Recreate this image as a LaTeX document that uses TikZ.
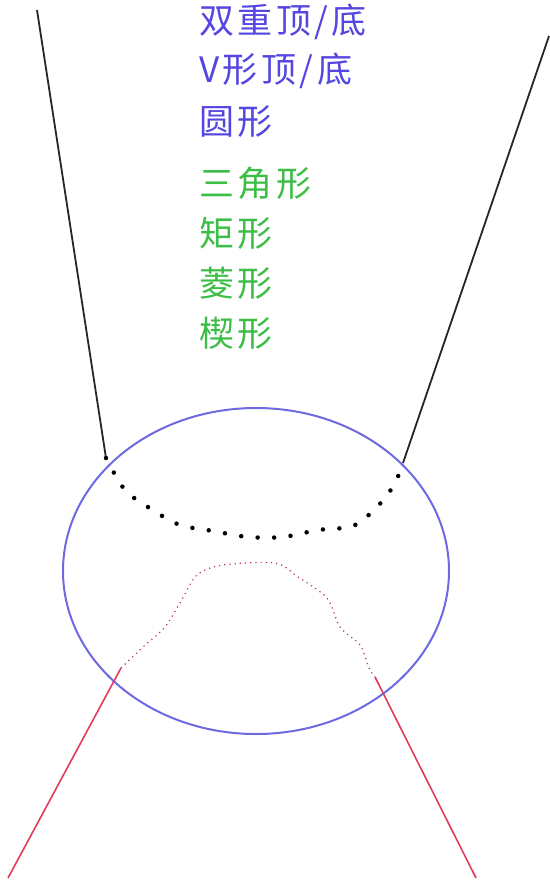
\documentclass[tikz,border=0pt]{standalone}
\usepackage{fontspec}
\newfontfamily\cjk[LetterSpace=10]{Noto Sans CJK SC}
\usetikzlibrary{shapes.geometric}
\definecolor{tblue}{RGB}{85,70,225}
\definecolor{tgreen}{RGB}{60,190,70}
\definecolor{eblue}{RGB}{110,105,225}
\definecolor{lred}{RGB}{225,60,90}
\tikzset{
  lbl/.style={anchor=west,inner sep=0pt,font=\cjk\fontsize{35}{35}\selectfont},
  bluetxt/.style={lbl,text=tblue},
  greentxt/.style={lbl,text=tgreen},
  blackline/.style={draw=black!85,line width=1.8pt},
  redline/.style={draw=lred,line width=1.6pt},
  bigdots/.style={draw=black,line width=4.5pt,line cap=round,dash pattern=on 0pt off 16.5pt},
  smalldots/.style={draw=lred!85!black,line width=1.2pt,dash pattern=on 1.2pt off 4pt},
}
\begin{document}
\begin{tikzpicture}[x=1pt,y=-1pt]
\useasboundingbox (0,0) rectangle (549,888);
\node[bluetxt] (t1) at (199,22) {双重顶/底};
\node[bluetxt] (t2) at (199,71) {V形顶/底};
\node[bluetxt] (t3) at (199,122) {圆形};
\node[greentxt] (t4) at (199,183) {三角形};
\node[greentxt] (t5) at (199,233) {矩形};
\node[greentxt] (t6) at (199,283) {菱形};
\node[greentxt] (t7) at (199,333) {楔形};
\node[ellipse,draw=eblue,line width=2pt,minimum width=386pt,minimum height=326pt,inner sep=0pt] (el) at (256,571) {};
\coordinate (tl) at (37,10);
\coordinate (tr) at (549,36);
\coordinate (bl) at (8,878);
\coordinate (br) at (476,878);
\coordinate (el1) at (106,458);
\coordinate (el2) at (403,463);
\coordinate (el3) at (121,668);
\coordinate (el4) at (375,677);
\draw[blackline] (tl) -- (el1);
\draw[blackline] (tr) -- (el2);
\draw[redline] (el3) -- (bl);
\draw[redline] (el4) -- (br);
\draw[bigdots] plot[smooth] coordinates {(106,458) (125,490) (151,509) (180,525) (213,531) (248,537) (283,537) (318,530) (353,526) (377,507) (394,485) (403,463)};
\draw[smalldots] plot[smooth] coordinates {(121,668) (143,647) (165,627) (180,603) (197,575) (223,565) (275,563) (298,577) (327,598) (340,627) (360,645) (369,668) (375,677)};
\end{tikzpicture}
\end{document}
